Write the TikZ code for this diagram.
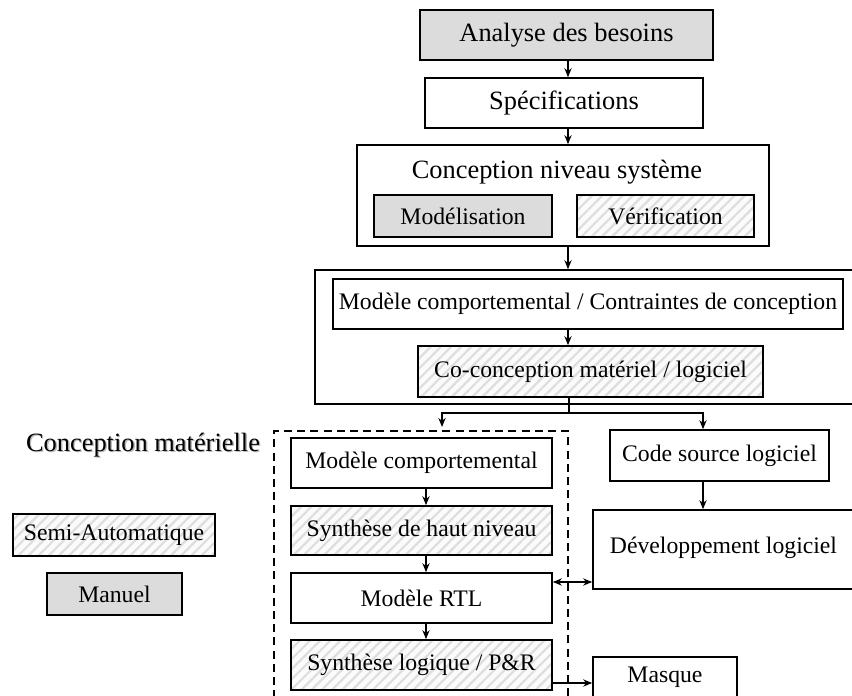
\documentclass[tikz,border=0pt]{standalone}
\usepackage{fontspec}
\setmainfont{Liberation Serif}
\usetikzlibrary{arrows.meta,patterns.meta}
\definecolor{manualgray}{HTML}{DCDCDC}
\definecolor{hatchgray}{HTML}{DEDEDE}

\begin{document}
\begin{tikzpicture}[x=0.5pt,y=-0.5pt,
  bigtxt/.style={font=\fontsize{13.2}{15}\selectfont},
  smalltxt/.style={font=\fontsize{11.85}{14}\selectfont},
  box/.style={draw=black, line width=0.8pt, inner sep=0pt, align=center},
  plain/.style={box, fill=white},
  manual/.style={box, fill=manualgray},
  semiauto/.style={box, preaction={fill=gray!3},
    pattern={Lines[angle=45,distance=3.6pt,line width=1.1pt]},
    pattern color=hatchgray},
  zone/.style={draw=black, line width=1pt, dash pattern=on 4pt off 2.6pt},
  arr/.style={line width=0.7pt, -{Stealth[length=4.5pt,width=3.6pt]}},
  arrboth/.style={line width=0.7pt, {Stealth[length=4.5pt,width=3.6pt]}-{Stealth[length=4.5pt,width=3.6pt]}},
  link/.style={line width=0.7pt}
]
\useasboundingbox (0,0) rectangle (852,696);

% main column
\coordinate (col) at (568,0);
\node[manual, bigtxt, minimum width=146.5pt, minimum height=25pt] (analyse) at (566.5,35) {Analyse des besoins};
\node[plain, bigtxt, minimum width=139pt, minimum height=25pt] (spec) at (564,103) {Spécifications};

% system-level design
\node[box, minimum width=206pt, minimum height=50.5pt] (sys) at (563,195.5) {};
\node[bigtxt] (systitle) at (557,172) {Conception niveau système};
\node[manual, smalltxt, minimum width=89pt, minimum height=21pt] (model) at (463,216) {Modélisation};
\node[semiauto, smalltxt, minimum width=88.5pt, minimum height=21pt] (verif) at (665.5,216) {Vérification};

% co-design block
\node[box, minimum width=273pt, minimum height=67pt] (codesign) at (588,337) {};
\node[plain, smalltxt, minimum width=255pt, minimum height=25pt] (behav) at (588,304) {Modèle comportemental / Contraintes de conception};
\node[semiauto, smalltxt, minimum width=172.5pt, minimum height=25.5pt] (coco) at (590.5,371.5) {Co-conception matériel / logiciel};

% hardware flow
\node[zone, inner sep=0pt, minimum width=147pt, minimum height=144pt] (hwzone) at (421,575) {};
\coordinate (hwcol) at (426,0);
\node[plain, smalltxt, minimum width=130.5pt, minimum height=25pt] (mc) at (421.5,463) {Modèle comportemental};
\node[semiauto, smalltxt, minimum width=130.5pt, minimum height=24.5pt] (hls) at (421.5,530.5) {Synthèse de haut niveau};
\node[plain, smalltxt, minimum width=130.5pt, minimum height=25pt] (rtl) at (421.5,598) {Modèle RTL};
\node[semiauto, smalltxt, minimum width=130.5pt, minimum height=25pt] (lsyn) at (421.5,665) {Synthèse logique / P\&R};

% software flow
\coordinate (swcol) at (703,0);
\node[plain, smalltxt, minimum width=109.5pt, minimum height=25.5pt] (src) at (719.5,455.5) {Code source logiciel};
\node[box, minimum width=131pt, minimum height=39.5pt] (dev) at (724,549.5) {};
\node[smalltxt] (devtxt) at (723.5,548) {Développement logiciel};
\node[plain, smalltxt, minimum width=72pt, minimum height=20pt] (mask) at (665,677) {Masque};

% legend
\node[bigtxt, text=gray!55] (hwshadow) at (144.4,446.4) {Conception matérielle};
\node[bigtxt] (hwlabel) at (143,445) {Conception matérielle};
\node[semiauto, smalltxt, minimum width=101pt, minimum height=21pt] (legsemi) at (114,535) {Semi-Automatique};
\node[manual, smalltxt, minimum width=67.5pt, minimum height=21pt] (legman) at (114.5,594) {Manuel};

% connectors
\draw[arr] (analyse.south -| col) -- (spec.north -| col);
\draw[arr] (spec.south -| col) -- (sys.north -| col);
\draw[arr] (sys.south -| col) -- (codesign.north -| col);
\draw[arr] (behav.south -| col) -- (coco.north -| col);

\coordinate (br) at (569,413);
\coordinate (hwin) at (442,0);
\draw[link] (coco.south -| br) -- (br);
\draw[arr] (br) -| ([yshift=1.5pt]hwin |- hwzone.north);
\draw[arr] (br) -| (swcol |- src.north);

\draw[arr] (mc.south -| hwcol) -- (hls.north -| hwcol);
\draw[arr] (hls.south -| hwcol) -- (rtl.north -| hwcol);
\draw[arr] (rtl.south -| hwcol) -- (lsyn.north -| hwcol);

\draw[arr] (src.south -| swcol) -- (dev.north -| swcol);

\coordinate (busrow) at (0,582);
\draw[arrboth] (rtl.east |- busrow) -- (dev.west |- busrow);
\coordinate (maskrow) at (0,683);
\draw[arr] (lsyn.east |- maskrow) -- (mask.west |- maskrow);
\end{tikzpicture}
\end{document}
